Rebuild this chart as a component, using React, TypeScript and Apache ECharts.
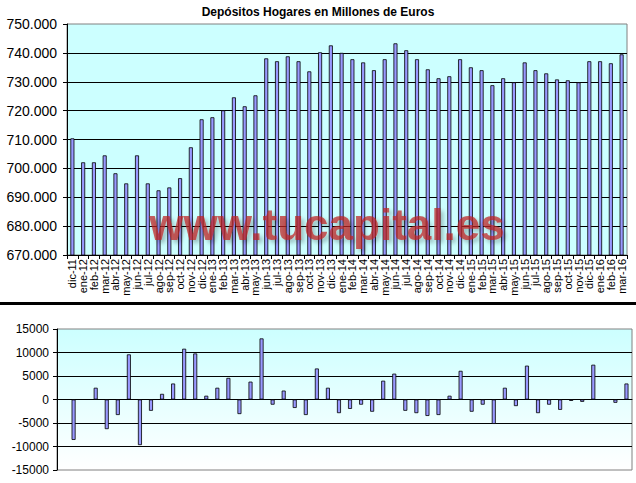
import React, { useEffect, useRef } from "react";
import * as echarts from "echarts";

const categories = [
  "dic-11",
  "ene-12", "feb-12", "mar-12", "abr-12", "may-12", "jun-12", "jul-12", "ago-12", "sep-12", "oct-12", "nov-12", "dic-12",
  "ene-13", "feb-13", "mar-13", "abr-13", "may-13", "jun-13", "jul-13", "ago-13", "sep-13", "oct-13", "nov-13", "dic-13",
  "ene-14", "feb-14", "mar-14", "abr-14", "may-14", "jun-14", "jul-14", "ago-14", "sep-14", "oct-14", "nov-14", "dic-14",
  "ene-15", "feb-15", "mar-15", "abr-15", "may-15", "jun-15", "jul-15", "ago-15", "sep-15", "oct-15", "nov-15", "dic-15",
  "ene-16", "feb-16", "mar-16",
];

const depositos = [
  710400,
  702100, 702100, 704500, 698300, 694800, 704500, 694800, 692400, 693400, 696600, 707300, 717000,
  717700, 720100, 724600, 721500, 725300, 738100, 737100, 738800, 737100, 733600, 740200, 742600,
  740000, 737800, 736700, 734000, 737800, 743300, 740900, 737800, 734300, 731200, 731900, 737800,
  735000, 734000, 728800, 731200, 729800, 736700, 734000, 732900, 730800, 730500, 729800, 737100,
  737100, 736400, 739500,
];

const variacion = [
  null,
  -8600, 0, 2500, -6300, -3300, 9600, -9700, -2400, 1200, 3400, 10800, 9800,
  800, 2500, 4600, -3100, 3800, 13000, -1100, 1900, -1800, -3300, 6600, 2500,
  -2900, -2000, -1100, -2600, 4000, 5500, -2400, -2900, -3500, -3300, 800, 6100,
  -2600, -1100, -5200, 2500, -1400, 7200, -2900, -1100, -2200, -300, -500, 7400,
  0, -700, 3400,
];

const titleText = "Depósitos Hogares en Millones de Euros";
const watermark = "www.tucapital.es";

const fmtThousands = (v: number) => {
  const t = Math.floor(v / 1000);
  const r = Math.abs(v % 1000);
  return t + "." + String(r).padStart(3, "0");
};

export default function App() {
  const ref = useRef<HTMLDivElement>(null);
  useEffect(() => {
    if (!ref.current) return;
    const chart = echarts.init(ref.current, null, { renderer: "svg" });
    const font = "Arial, 'Liberation Sans', sans-serif";
    chart.setOption({
      animation: false,
      backgroundColor: "#ffffff",
      grid: [
        {
          left: 67, top: 24, width: 560, height: 231,
          show: true, backgroundColor: "#CCFFFF", borderColor: "#808080", borderWidth: 1,
        },
        {
          left: 57, top: 329, width: 575, height: 141,
          show: true,
          backgroundColor: {
            type: "linear", x: 0, y: 0, x2: 0, y2: 1,
            colorStops: [
              { offset: 0, color: "#CCFFFF" },
              { offset: 1, color: "#FFFFFF" },
            ],
          },
          borderColor: "#808080", borderWidth: 1,
        },
      ],
      xAxis: [
        {
          type: "category", gridIndex: 0, data: categories,
          axisLine: { show: true, lineStyle: { color: "#000", width: 1 } },
          axisTick: { show: true, alignWithLabel: false, length: 4, lineStyle: { color: "#000" } },
          axisLabel: { interval: 0, rotate: 90, fontSize: 11, fontFamily: font, color: "#000", margin: 4 },
        },
        {
          type: "category", gridIndex: 1, data: categories,
          axisLine: { show: true, onZero: true, lineStyle: { color: "#000", width: 1 } },
          axisTick: { show: false },
          axisLabel: { show: false },
        },
      ],
      yAxis: [
        {
          type: "value", gridIndex: 0, min: 670000, max: 750000, interval: 10000,
          axisLine: { show: true, lineStyle: { color: "#000" } },
          axisTick: { show: true, length: 4, lineStyle: { color: "#000" } },
          axisLabel: { formatter: fmtThousands, fontSize: 14, fontFamily: font, color: "#000", margin: 10 },
          splitLine: { show: true, showMinLine: false, showMaxLine: false, lineStyle: { color: "#000", width: 1 } },
        },
        {
          type: "value", gridIndex: 1, min: -15000, max: 15000, interval: 5000,
          axisLine: { show: true, lineStyle: { color: "#000" } },
          axisTick: { show: true, length: 4, lineStyle: { color: "#000" } },
          axisLabel: { formatter: (v: number) => String(v), fontSize: 12, fontFamily: font, color: "#000", margin: 8 },
          splitLine: { show: true, showMinLine: false, showMaxLine: false, lineStyle: { color: "#000", width: 1 } },
        },
      ],
      series: [
        {
          type: "bar", xAxisIndex: 0, yAxisIndex: 0, data: depositos, barWidth: 4,
          itemStyle: { color: "#9999FF", borderColor: "#000", borderWidth: 0.8 },
        },
        {
          type: "bar", xAxisIndex: 1, yAxisIndex: 1, data: variacion, barWidth: 4,
          itemStyle: { color: "#9999FF", borderColor: "#000", borderWidth: 0.8 },
        },
      ],
      graphic: [
        {
          type: "text", left: "center", top: 6, z: 100,
          style: { text: titleText, font: "bold 12px " + font, fill: "#000" },
        },
        {
          type: "text", x: 327, y: 224, z: 100,
          style: {
            text: watermark, font: "bold 44px " + font,
            fill: "rgba(190,35,35,0.72)", textAlign: "center", textVerticalAlign: "middle",
            textShadowColor: "rgba(0,0,0,0.35)", textShadowBlur: 4,
            textShadowOffsetX: 3, textShadowOffsetY: 3,
          },
        },
        {
          type: "rect", z: 100,
          shape: { x: 0, y: 302, width: 636, height: 3 },
          style: { fill: "#000" },
        },
      ],
    });
    return () => chart.dispose();
  }, []);
  return (
    <div
      ref={ref}
      style={{ position: "fixed", left: 0, top: 0, width: 636, height: 483 }}
    />
  );
}
